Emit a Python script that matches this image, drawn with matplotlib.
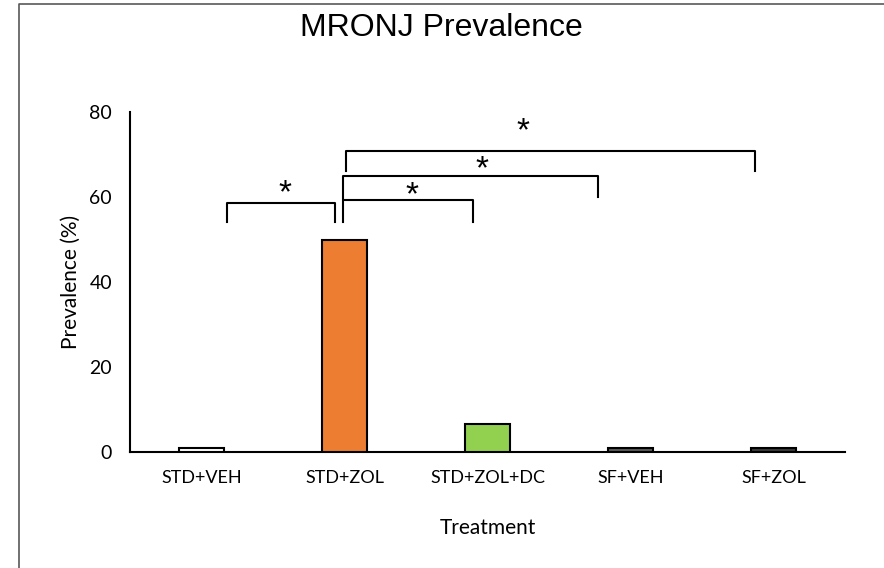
import matplotlib
matplotlib.use("Agg")
import matplotlib.pyplot as plt
from matplotlib.lines import Line2D

categories = ["STD+VEH", "STD+ZOL", "STD+ZOL+DC", "SF+VEH", "SF+ZOL"]
prevalence = [1, 50, 6.7, 1, 1]
bar_colors = ["#FFFFFF", "#ED7D31", "#92D050", "#595959", "#3A3A3A"]
yticks = [0, 20, 40, 60, 80]

# significance brackets: (x_left, x_right, y_top, y_left_bottom, y_right_bottom, star_x, star_y)
brackets = [
    (0.175, 0.935, 58.7, 54.2, 54.2, 0.587, 61.9),
    (0.993, 1.90, 59.3, 54.2, 54.2, 1.475, 61.6),
    (0.993, 2.77, 65.0, 59.5, 60.1, 1.96, 67.5),
    (1.007, 3.87, 70.9, 66.1, 66.1, 2.25, 76.5),
]

W, H = 884, 568
fig = plt.figure(figsize=(W / 100, H / 100), dpi=100)
ax = fig.add_axes([130 / W, 1 - 452 / H, (845 - 130) / W, (452 - 112) / H])

x = list(range(len(categories)))
ax.bar(x, prevalence, width=0.32, color=bar_colors, edgecolor="black", linewidth=1.5, zorder=3)

ax.set_xlim(-0.5, 4.5)
ax.set_ylim(0, 80)
ax.set_yticks(yticks)
ax.set_xticks(x)
ax.set_xticklabels(categories, fontsize=13, family="Lato")
ax.set_yticklabels([str(v) for v in yticks], fontsize=14, family="Lato")
ax.tick_params(axis="both", length=0)
ax.tick_params(axis="x", pad=13)
ax.tick_params(axis="y", pad=13)
for s in ["top", "right"]:
    ax.spines[s].set_visible(False)
for s in ["left", "bottom"]:
    ax.spines[s].set_linewidth(1.5)
    ax.spines[s].set_color("black")

ax.set_ylabel("Prevalence (%)", fontsize=15, family="Lato", labelpad=6)
ax.set_xlabel("Treatment", fontsize=15, family="Lato", labelpad=23)

for xl, xr, yt, ybl, ybr, sx, sy in brackets:
    ax.plot([xl, xl, xr, xr], [ybl, yt, yt, ybr], color="black", lw=1.5, clip_on=False, zorder=4)
    ax.text(sx, sy - 1.2, "*", fontsize=24, ha="center", va="center", family="Liberation Sans", clip_on=False)

fig.text(441 / W, 1 - 28 / H, "MRONJ Prevalence", fontsize=23, ha="center", va="center",
         family="Liberation Sans")

# outer chart frame (left and top edges visible)
fig.add_artist(Line2D([19 / W, 19 / W, 1], [0, 1 - 4 / H, 1 - 4 / H], transform=fig.transFigure,
                      color="#595959", lw=1.2))

fig.savefig("out.png", dpi=100, facecolor="white")
